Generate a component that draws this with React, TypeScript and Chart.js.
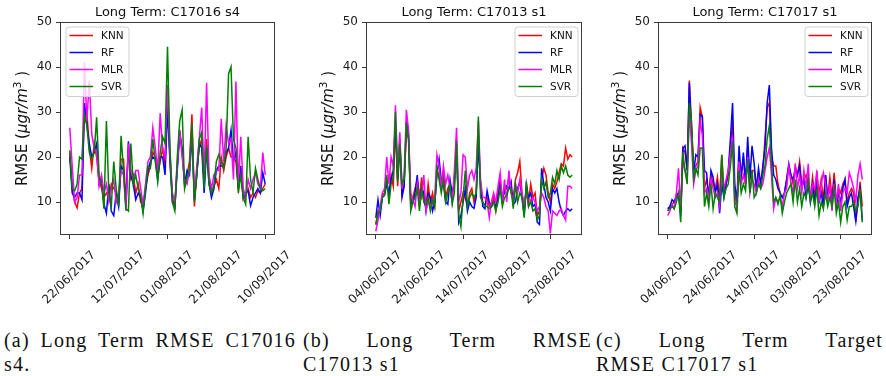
import React, { useEffect, useRef } from 'react';
import { Chart, registerables } from 'chart.js';

Chart.register(...registerables);
Chart.defaults.font.family = '"DejaVu Sans", sans-serif';

// ---------- shared ----------
const SERIES_NAMES = ['KNN', 'RF', 'MLR', 'SVR'];
const SERIES_COLORS = ['#ff0000', '#0000ff', '#ff00ff', '#008000'];
const Y_TICKS = [10, 20, 30, 40, 50];
const TICK_DAYS = [0, 20, 40, 60, 80];

// ---------- panel (a) C17016 s4 : 22/06/2017 .. 10/09/2017 ----------
const p1Title = 'Long Term: C17016 s4';
const p1TickLabels = ['22/06/2017', '12/07/2017', '01/08/2017', '21/08/2017', '10/09/2017'];
const p1KNN = [
  21, 13, 10, 8.7, 12, 13, 31, 30, 22, 17.5,
  23, 20, 15, 13, 11, 12, 11, 14, 13, 12,
  10, 19.5, 19.5, 10, 22, 15, 16, 12, 14, 10,
  9, 13, 16, 18, 21, 20, 16, 19, 22, 18,
  33, 20, 11, 9, 18, 26, 21, 13.5, 16, 19,
  29.5, 9, 17, 22, 24, 14, 24, 15, 12, 13.5,
  15, 13, 20, 17, 20, 22, 20, 20, 19, 13,
  17, 10.5, 11.5, 13, 11, 12, 11, 12.5, 12, 13,
  14,
];
const p1RF = [
  20, 12, 11, 12, 12, 10.5, 32, 27, 23, 20,
  21, 23, 14, 15, 9.5, 7.5, 14, 8, 7, 12,
  9, 18, 17, 9, 23.5, 16, 14, 10.5, 12, 11,
  8, 12, 17, 19, 20, 19.5, 15, 20, 20, 16,
  31, 19, 10, 9, 17, 25, 22, 14, 17, 16,
  25, 10.5, 16, 23, 22, 12, 22, 14, 11, 13,
  17, 18, 18, 18, 21, 22, 26, 19, 21, 13,
  18, 11, 12, 12.5, 9.2, 11, 12, 13, 12, 16.5,
  14,
];
const p1MLR = [
  26.5, 18, 10, 11, 16, 16, 41, 28, 37, 25,
  22, 21, 13.5, 16, 12, 14, 10, 13, 15, 10,
  12, 17, 16, 8, 23, 17, 15, 17, 17, 13,
  9.5, 14, 19, 20, 26.5, 22, 17, 29.7, 22, 20,
  36, 21, 12, 10, 18, 26, 20, 15, 14, 17,
  27, 11, 18, 24, 31, 15, 36.5, 16, 13, 16,
  17, 17, 28.5, 19, 27, 23, 24, 15, 36.8, 14,
  24.5, 13, 11, 15, 13, 15, 16.5, 14, 13, 21,
  16,
];
const p1SVR = [
  21.5, 13, 12.5, 14, 20, 19.5, 29.5, 27, 21, 19.5,
  21, 28.8, 16, 14, 8.5, 28, 12, 9, 19, 13,
  9, 24.7, 17, 8.5, 8, 23, 14, 16, 13, 11.5,
  7.5, 13, 18, 17.5, 24, 19, 14.5, 21, 24.5, 23,
  44.5, 22, 10, 8, 20, 28, 30.5, 13, 15.5, 17,
  27.5, 10, 16, 24, 25.5, 13, 22.5, 14, 12, 13.5,
  19, 20.5, 19, 17.5, 22, 38.5, 40, 24, 22, 12,
  16, 11, 9.5, 24.5, 15, 12, 17.5, 15, 13, 12.5,
  13,
];

// ---------- panel (b) C17013 s1 : 04/06/2017 .. 02/09/2017 ----------
const p2Title = 'Long Term: C17013 s1';
const p2TickLabels = ['04/06/2017', '24/06/2017', '14/07/2017', '03/08/2017', '23/08/2017'];
const p2KNN = [
  5, 8, 8.5, 11.5, 12, 15, 11, 16, 13.5, 27,
  13.5, 23, 12, 14, 26, 24, 10, 11, 13, 15,
  11, 15.5, 10, 9, 14, 10, 12, 9, 17, 16,
  13, 17, 11, 13, 14, 11, 15, 22, 8, 10,
  12, 11, 9, 12, 13, 10, 12, 25, 13, 10,
  9, 11, 9, 9, 11, 8, 12, 15, 10, 13,
  13, 15.5, 12, 11, 15, 16.5, 19, 12, 8, 13,
  10, 14, 11, 12, 7, 8, 15, 17.5, 16, 12,
  10, 14, 13, 14.5, 16.5, 18.5, 18, 22, 19.5, 20.5, 20,
];
const p2RF = [
  6.5, 10.5, 7, 11, 11.5, 14, 12, 15, 17, 28,
  15, 24, 11, 13.5, 28, 25, 9.5, 10, 12, 16,
  9, 13, 12, 8, 12, 11, 8, 10, 16, 19.5,
  15, 14, 10, 9.5, 15, 12, 14, 23, 5.5, 7,
  10, 13, 8, 10, 9, 8.6, 11, 23, 14, 9,
  8.5, 12.5, 10, 9, 10, 9, 11, 14, 11, 12,
  13.5, 13, 14.5, 9.5, 10, 13, 14.5, 11, 7, 14,
  11, 12, 9, 9.5, 5.5, 5, 17.5, 14, 11, 10,
  8, 13, 12, 13, 10, 8, 7, 8, 8.5, 8, 8.5,
];
const p2MLR = [
  3.5, 6, 9, 12, 13, 20, 14, 20, 18, 31.5,
  17, 25.5, 13, 16, 30.5, 26, 12, 10.5, 9, 14,
  10, 11, 16, 8, 10, 9, 9.5, 11, 20.5, 18,
  13, 18, 14, 16, 13, 10, 17, 26.5, 10, 12,
  20.5, 20, 13, 16, 17, 15, 17.5, 28, 15, 11,
  11, 10, 6.5, 10, 12, 10, 13.5, 16.5, 10, 15,
  10, 17, 12, 10, 14, 12, 15, 12, 9.5, 12,
  9, 10.5, 11, 10, 8, 9, 12, 11, 9, 8,
  3, 8, 7.5, 7, 8, 8.5, 7, 6, 13.5, 13.5, 13,
];
const p2SVR = [
  5, 7.5, 8, 11, 11.5, 16, 9.5, 14, 15.5, 30,
  14.5, 23, 14, 15, 27.5, 24, 8, 10, 11, 13,
  8, 13, 10, 9.5, 11, 8, 10.5, 9, 17.5, 15,
  12, 15, 10, 12, 14, 9.5, 12, 23.5, 7, 4.5,
  11, 17, 9, 11, 12, 11, 12, 29, 11, 10,
  9, 9, 8.5, 9, 10, 8, 10, 13, 9, 11,
  11.5, 13, 13, 8.5, 14, 10, 12, 11, 6.5, 14.5,
  9, 10, 8, 8.5, 6, 7, 15, 13, 14.5, 11,
  12, 15.5, 14, 17, 15, 18, 16.5, 18, 16, 15.5, 16,
];

// ---------- panel (c) C17017 s1 : 04/06/2017 .. 02/09/2017 ----------
const p3Title = 'Long Term: C17017 s1';
const p3TickLabels = ['04/06/2017', '24/06/2017', '14/07/2017', '03/08/2017', '23/08/2017'];
const p3KNN = [
  8, 9, 9.5, 10, 11, 12, 8, 22, 21, 17,
  37, 27, 18, 18, 19, 31, 29, 13, 15, 12,
  16, 14, 13, 15.5, 10, 20.5, 12, 14, 16, 22,
  28, 12, 9, 20, 16, 20, 14, 22, 15, 17,
  17, 13, 16, 14, 17, 24, 31, 32, 20, 18,
  18, 14, 12, 11, 12, 15, 18, 16, 14, 18,
  16, 19, 14, 15, 16, 14, 11, 15.5, 11, 16,
  12, 15, 10, 16, 11, 15.5, 11, 16.5, 10, 13,
  12, 14, 15, 10, 12, 13, 12, 5.5, 10, 14.5, 9,
];
const p3RF = [
  8.5, 9, 10.5, 10, 11.5, 12, 7, 22, 22.5, 17,
  36.5, 26, 16.5, 20.5, 20, 29.5, 29, 17, 16.5, 10,
  17, 15.5, 12, 14, 7.5, 14, 11, 14, 17, 24,
  32, 14, 10, 22.5, 15, 21, 14, 24.5, 15, 22.5,
  18.5, 13, 17.5, 14, 18, 22, 32, 36, 22, 16,
  15, 13, 12, 11, 12, 15, 18.5, 16, 15, 17,
  16, 18, 13, 15, 11, 14, 10, 14, 10, 14,
  10, 12, 9, 16, 11, 13, 10, 15, 9, 12,
  10, 13, 15, 9, 11, 12, 9, 5.8, 11, 13, 6,
];
const p3MLR = [
  7, 8, 9.5, 8.5, 12, 17.5, 8, 19, 17, 15,
  30, 23, 14, 17, 18, 28, 25, 12, 13, 11,
  15, 13, 11, 12, 9, 16, 13, 15, 17, 21,
  24.5, 10, 9, 19, 14, 16, 14, 20, 12, 15,
  14, 12, 15, 13, 14, 17, 20, 22, 16, 8.5,
  11, 10, 11, 9, 12, 13, 18, 14, 12, 18.5,
  13, 16, 12, 17, 13, 18.5, 10, 14, 13, 17,
  10, 14, 16.5, 14, 10, 14, 8, 14, 10, 14,
  8, 12, 13, 12, 16.5, 15, 13, 10, 16, 18.5, 15,
];
const p3SVR = [
  8, 8.5, 9, 8.5, 10, 12, 5.5, 21, 17, 14,
  32, 28, 15, 17.5, 16, 22, 22, 9, 12, 9,
  14, 8.5, 12, 11, 10, 20.5, 11, 13, 14, 18,
  23.5, 9, 7.5, 17, 12, 14, 12.5, 19.5, 12, 17,
  11, 12, 14, 13, 16, 18, 24, 27, 19, 10,
  11, 9.5, 11.5, 7.5, 10, 12, 13, 14, 10, 15,
  10, 13, 9, 12, 11, 15, 10, 12, 9, 13,
  7, 10, 8.5, 12, 9, 11, 9, 13, 7.5, 10,
  5.5, 9, 10, 6, 9, 9, 10, 8, 9, 13, 5.5,
];

// ---------- decoration plugin (frame, title, y label, legend) ----------
const decorPlugin = {
  id: 'mplDecor',
  afterDatasetsDraw(chart: any, _args: any, opts: any) {
    const { ctx, chartArea: a } = chart;
    ctx.save();
    // frame
    ctx.strokeStyle = '#3a3a3a';
    ctx.lineWidth = 1;
    ctx.strokeRect(Math.round(a.left) + 0.5, Math.round(a.top) + 0.5,
      Math.round(a.right - a.left) - 1, Math.round(a.bottom - a.top) - 1);

    // title
    ctx.fillStyle = '#111';
    ctx.font = '13px "DejaVu Sans"';
    ctx.textAlign = 'center';
    ctx.textBaseline = 'alphabetic';
    ctx.fillText(opts.title, (a.left + a.right) / 2, a.top - 6);

    // y label: RMSE (μgr/m³ )
    const parts = [
      { t: 'RMSE (', f: '15px "DejaVu Sans"', dy: 0 },
      { t: 'μgr/m', f: 'italic 15px "DejaVu Sans"', dy: 0 },
      { t: '3', f: '10.5px "DejaVu Sans"', dy: -6.5 },
      { t: ' )', f: '15px "DejaVu Sans"', dy: 0 },
    ];
    let total = 0;
    const widths = parts.map((p) => { ctx.font = p.f; const w = ctx.measureText(p.t).width; total += w; return w; });
    ctx.save();
    ctx.translate(a.left - 33, (a.top + a.bottom) / 2);
    ctx.rotate(-Math.PI / 2);
    ctx.textAlign = 'left';
    let x = -total / 2;
    parts.forEach((p, i) => { ctx.font = p.f; ctx.fillText(p.t, x, p.dy); x += widths[i]; });
    ctx.restore();

    // legend
    const bw = 63, bh = 69.5;
    const bx = opts.legendRight ? a.right - 4 - bw : a.left + 6;
    const by = a.top + 5;
    ctx.beginPath();
    const r = 3;
    ctx.moveTo(bx + r, by);
    ctx.arcTo(bx + bw, by, bx + bw, by + bh, r);
    ctx.arcTo(bx + bw, by + bh, bx, by + bh, r);
    ctx.arcTo(bx, by + bh, bx, by, r);
    ctx.arcTo(bx, by, bx + bw, by, r);
    ctx.closePath();
    ctx.fillStyle = 'rgba(255,255,255,0.8)';
    ctx.fill();
    ctx.strokeStyle = '#d0d0d0';
    ctx.lineWidth = 1;
    ctx.stroke();
    ctx.font = '10.5px "DejaVu Sans"';
    ctx.textBaseline = 'middle';
    ctx.textAlign = 'left';
    chart.data.datasets.forEach((ds: any, i: number) => {
      const yy = by + 8.5 + i * 17;
      ctx.strokeStyle = ds.borderColor;
      ctx.lineWidth = 1.5;
      ctx.beginPath();
      ctx.moveTo(bx + 3.5, yy);
      ctx.lineTo(bx + 27, yy);
      ctx.stroke();
      ctx.fillStyle = '#111';
      ctx.fillText(ds.label, bx + 35, yy + 0.5);
    });
    ctx.restore();
  },
};

type PanelProps = {
  title: string;
  tickLabels: string[];
  series: number[][];
  left: number;
  width: number;
  yAxisWidth: number;
  rightPad: number;
  legendRight: boolean;
};

const CANVAS_H = 318;

function Panel(props: PanelProps) {
  const ref = useRef<HTMLCanvasElement>(null);
  useEffect(() => {
    const n = props.series[0].length;
    const span = n - 1;
    const datasets = props.series.map((vals, si) => ({
      label: SERIES_NAMES[si],
      data: vals.map((v, i) => ({ x: i, y: v })),
      borderColor: SERIES_COLORS[si],
      backgroundColor: SERIES_COLORS[si],
      borderWidth: 1.5,
      pointRadius: 0,
      tension: 0,
      fill: false,
      order: 3 - si,
    }));
    const tickColor = '#3a3a3a';
    const chart = new Chart(ref.current as HTMLCanvasElement, {
      type: 'line',
      data: { datasets },
      plugins: [decorPlugin],
      options: {
        animation: false,
        responsive: false,
        devicePixelRatio: 1,
        layout: { padding: { left: 0, right: props.rightPad, top: 22, bottom: 0 } },
        plugins: {
          legend: { display: false },
          tooltip: { enabled: false },
          mplDecor: { title: props.title, legendRight: props.legendRight },
        } as any,
        scales: {
          x: {
            type: 'linear',
            min: -span * 0.05,
            max: span * 1.05,
            afterFit: (s: any) => { s.height = CANVAS_H - 235; },
            afterBuildTicks: (s: any) => { s.ticks = TICK_DAYS.map((v) => ({ value: v })); },
            ticks: {
              autoSkip: false,
              minRotation: 45,
              maxRotation: 45,
              labelOffset: 24,
              padding: 9,
              color: '#1a1a1a',
              font: { size: 12, family: '"DejaVu Sans"' },
              callback: (_v: any, i: number) => props.tickLabels[i],
            },
            grid: { drawOnChartArea: false, drawTicks: true, tickLength: 4, color: tickColor },
            border: { display: false },
          },
          y: {
            type: 'linear',
            min: 2.67,
            max: 50,
            afterFit: (s: any) => { s.width = props.yAxisWidth; },
            afterBuildTicks: (s: any) => { s.ticks = Y_TICKS.map((v) => ({ value: v })); },
            ticks: {
              padding: 4,
              color: '#1a1a1a',
              font: { size: 12, family: '"DejaVu Sans"' },
            },
            grid: { drawOnChartArea: false, drawTicks: true, tickLength: 4, color: tickColor },
            border: { display: false },
          },
        },
      } as any,
    });
    return () => chart.destroy();
  }, []);
  return (
    <canvas
      ref={ref}
      width={props.width}
      height={CANVAS_H}
      style={{ position: 'absolute', left: props.left, top: 0, width: props.width, height: CANVAS_H, display: 'block' }}
    />
  );
}

const captionFont: React.CSSProperties = {
  position: 'absolute',
  fontFamily: '"Liberation Serif", serif',
  fontSize: 20,
  lineHeight: '24px',
  letterSpacing: 1.2,
  color: '#111',
  whiteSpace: 'nowrap',
};

function Caption(props: { left: number; width: number; line1: string; line2: string }) {
  return (
    <div style={{ ...captionFont, left: props.left, top: 328, width: props.width }}>
      <div style={{ textAlign: 'justify', textAlignLast: 'justify', whiteSpace: 'normal' } as any}>{props.line1}</div>
      <div>{props.line2}</div>
    </div>
  );
}

export default function App() {
  return (
    <div style={{ position: 'absolute', left: 0, top: 0, width: 886, height: 376, background: '#fff', overflow: 'hidden' }}>
      <Panel title={p1Title} tickLabels={p1TickLabels} series={[p1KNN, p1RF, p1MLR, p1SVR]}
        left={0} width={295} yAxisWidth={60} rightPad={20} legendRight={false} />
      <Panel title={p2Title} tickLabels={p2TickLabels} series={[p2KNN, p2RF, p2MLR, p2SVR]}
        left={295} width={295} yAxisWidth={71} rightPad={8} legendRight={true} />
      <Panel title={p3Title} tickLabels={p3TickLabels} series={[p3KNN, p3RF, p3MLR, p3SVR]}
        left={590} width={296} yAxisWidth={68} rightPad={14} legendRight={true} />
      <Caption left={4} width={292} line1="(a) Long Term RMSE C17016" line2="s4." />
      <Caption left={303} width={289} line1="(b) Long Term RMSE" line2="C17013 s1" />
      <Caption left={596} width={287} line1="(c) Long Term Target" line2="RMSE C17017 s1" />
    </div>
  );
}
